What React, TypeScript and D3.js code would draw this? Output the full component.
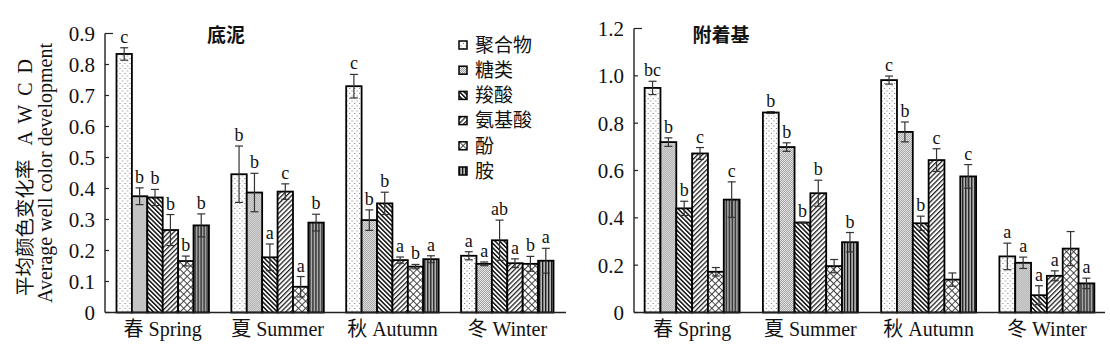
import React from 'react';
import * as d3 from 'd3';

const seasons = ['春 Spring', '夏 Summer', '秋 Autumn', '冬 Winter'];
const series = ['聚合物', '糖类', '羧酸', '氨基酸', '酚', '胺'];

const sedimentMean = [
  [0.834, 0.375, 0.371, 0.266, 0.166, 0.281],
  [0.446, 0.387, 0.178, 0.390, 0.083, 0.290],
  [0.730, 0.298, 0.352, 0.169, 0.148, 0.172],
  [0.183, 0.157, 0.233, 0.159, 0.157, 0.167],
];
const sedimentErr = [
  [0.020, 0.027, 0.026, 0.050, 0.016, 0.037],
  [0.091, 0.062, 0.043, 0.025, 0.033, 0.027],
  [0.038, 0.033, 0.036, 0.010, 0.007, 0.011],
  [0.013, 0.006, 0.065, 0.014, 0.024, 0.040],
];
const sedimentSig = [
  ['c', 'b', 'b', 'b', 'b', 'b'],
  ['b', 'b', 'a', 'c', 'a', 'b'],
  ['c', 'b', 'b', 'a', 'b', 'a'],
  ['a', 'a', 'ab', 'a', 'b', 'a'],
];
const sedimentTicks = [0, 0.1, 0.2, 0.3, 0.4, 0.5, 0.6, 0.7, 0.8, 0.9];

const substrateMean = [
  [0.949, 0.720, 0.440, 0.672, 0.172, 0.477],
  [0.845, 0.699, 0.380, 0.504, 0.196, 0.297],
  [0.982, 0.763, 0.377, 0.644, 0.139, 0.575],
  [0.237, 0.210, 0.073, 0.155, 0.270, 0.123],
];
const substrateErr = [
  [0.028, 0.018, 0.030, 0.025, 0.018, 0.075],
  [0.004, 0.018, 0.002, 0.055, 0.028, 0.041],
  [0.017, 0.042, 0.030, 0.048, 0.028, 0.050],
  [0.056, 0.024, 0.040, 0.021, 0.072, 0.022],
];
const substrateSig = [
  ['bc', 'b', 'b', 'c', '', 'c'],
  ['b', 'b', 'b', 'b', '', 'b'],
  ['c', 'b', 'b', 'c', '', 'c'],
  ['a', 'a', 'a', 'a', '', 'a'],
];
const substrateTicks = [0, 0.2, 0.4, 0.6, 0.8, 1.0, 1.2];

const SERIF = "'Liberation Serif', 'Times New Roman', 'Noto Sans CJK SC', serif";
const CJK = "'Noto Sans CJK SC', sans-serif";

type PanelProps = {
  title: string;
  titleX: number;
  axisX: number;
  axisEnd: number;
  bandRange: [number, number];
  padInner: number;
  padOuter: number;
  yMax: number;
  yTop: number;
  ticks: number[];
  tickFmt: (v: number) => string;
  means: number[][];
  errs: number[][];
  sigs: string[][];
};

const Y0 = 312.5;

function Panel(p: PanelProps) {
  const y = d3.scaleLinear().domain([0, p.yMax]).range([Y0, p.yTop]);
  const x0 = d3
    .scaleBand<string>()
    .domain(seasons)
    .range(p.bandRange)
    .paddingInner(p.padInner)
    .paddingOuter(p.padOuter);
  const x1 = d3.scaleBand<string>().domain(series).range([0, x0.bandwidth()]);
  const bw = x1.bandwidth();
  return (
    <g>
      {seasons.map((s, si) => (
        <g key={s} transform={`translate(${x0(s)},0)`}>
          {series.map((ser, i) => {
            const v = p.means[si][i];
            const e = p.errs[si][i];
            const bx = x1(ser)!;
            const cx = bx + bw / 2;
            return (
              <g key={ser}>
                <rect
                  x={bx}
                  y={y(v)}
                  width={bw}
                  height={Y0 - y(v)}
                  fill={`url(#pat${i})`}
                  stroke="#000"
                  strokeWidth={1.8}
                />
                <line x1={cx} x2={cx} y1={y(v - e)} y2={y(v + e)} stroke="#333" strokeWidth={1.2} />
                <line x1={cx - 4} x2={cx + 4} y1={y(v + e)} y2={y(v + e)} stroke="#333" strokeWidth={1.2} />
                <line x1={cx - 4} x2={cx + 4} y1={y(v - e)} y2={y(v - e)} stroke="#333" strokeWidth={1.2} />
                {p.sigs[si][i] && (
                  <text
                    x={cx}
                    y={y(v + e) - 5}
                    textAnchor="middle"
                    fontFamily={SERIF}
                    fontSize={18}
                    fill="#111"
                  >
                    {p.sigs[si][i]}
                  </text>
                )}
              </g>
            );
          })}
          <text
            x={x0.bandwidth() / 2}
            y={336}
            textAnchor="middle"
            fontFamily={SERIF}
            fontSize={20}
            fill="#111"
          >
            {s}
          </text>
        </g>
      ))}
      <line x1={p.axisX} x2={p.axisX} y1={p.yTop} y2={Y0} stroke="#222" strokeWidth={1.4} />
      <line x1={p.axisX} x2={p.axisEnd} y1={Y0} y2={Y0} stroke="#222" strokeWidth={1.4} />
      {p.ticks.map((t, i) => (
        <g key={t}>
          <line
            x1={p.axisX}
            x2={p.axisX + (i === p.ticks.length - 1 ? 8 : 4)}
            y1={y(t)}
            y2={y(t)}
            stroke="#222"
            strokeWidth={1.2}
          />
          <text
            x={p.axisX - 10}
            y={y(t)}
            dy="0.35em"
            textAnchor="end"
            fontFamily={SERIF}
            fontSize={21}
            fill="#111"
          >
            {p.tickFmt(t)}
          </text>
        </g>
      ))}
      <text x={p.titleX} y={42} textAnchor="middle" fontFamily={CJK} fontWeight="bold" fontSize={19} fill="#111">
        {p.title}
      </text>
    </g>
  );
}

function Patterns() {
  return (
    <defs>
      <pattern id="pat0" patternUnits="userSpaceOnUse" width={5} height={5}>
        <rect width={5} height={5} fill="#fff" />
        <rect x={0.5} y={0.5} width={1} height={1} fill="#777" />
        <rect x={3} y={3} width={1} height={1} fill="#777" />
      </pattern>
      <pattern id="pat1" patternUnits="userSpaceOnUse" width={2} height={2}>
        <rect width={2} height={2} fill="#eeeeee" />
        <rect x={0} y={0} width={1} height={1} fill="#9a9a9a" />
        <rect x={1} y={1} width={1} height={1} fill="#9a9a9a" />
      </pattern>
      <pattern id="pat2" patternUnits="userSpaceOnUse" width={3.2} height={10} patternTransform="rotate(-45)">
        <rect width={3.2} height={10} fill="#fff" />
        <rect x={0} y={0} width={1.5} height={10} fill="#111" />
      </pattern>
      <pattern id="pat3" patternUnits="userSpaceOnUse" width={3.4} height={10} patternTransform="rotate(45)">
        <rect width={3.4} height={10} fill="#fff" />
        <rect x={0} y={0} width={1.3} height={10} fill="#222" />
      </pattern>
      <pattern id="pat4" patternUnits="userSpaceOnUse" width={5} height={5} patternTransform="rotate(45)">
        <rect width={5} height={5} fill="#fff" />
        <rect x={0} y={0} width={0.9} height={5} fill="#333" />
        <rect x={0} y={0} width={5} height={0.9} fill="#333" />
      </pattern>
      <pattern id="pat5" patternUnits="userSpaceOnUse" width={3} height={10}>
        <rect width={3} height={10} fill="#bbb" />
        <rect x={0} y={0} width={1.3} height={10} fill="#111" />
      </pattern>
    </defs>
  );
}

function Legend() {
  return (
    <g>
      {series.map((s, i) => {
        const cy = 45 + i * 25.2;
        return (
          <g key={s}>
            <rect x={459} y={cy - 4} width={8} height={8} fill={`url(#pat${i})`} stroke="#000" strokeWidth={1.5} />
            <text x={475} y={cy} dy="0.36em" fontFamily={CJK} fontSize={19} fill="#111">
              {s}
            </text>
          </g>
        );
      })}
    </g>
  );
}

export default function App() {
  return (
    <svg
      width={1110}
      height={348}
      viewBox="0 0 1110 348"
      style={{ position: 'absolute', left: 0, top: 0, background: '#fff' }}
    >
      <Patterns />
      <rect width={1110} height={348} fill="#fff" />
      <Panel
        title="底泥"
        titleX={226}
        axisX={105}
        axisEnd={566}
        bandRange={[105, 565]}
        padInner={0.195}
        padOuter={0.1}
        yMax={0.9}
        yTop={33.5}
        ticks={sedimentTicks}
        tickFmt={(v) => (v === 0 ? '0' : d3.format('.1f')(v))}
        means={sedimentMean}
        errs={sedimentErr}
        sigs={sedimentSig}
      />
      <Panel
        title="附着基"
        titleX={721}
        axisX={634}
        axisEnd={1105}
        bandRange={[634, 1105]}
        padInner={0.197}
        padOuter={0.09}
        yMax={1.2}
        yTop={28.5}
        ticks={substrateTicks}
        tickFmt={(v) => (v === 0 ? '0' : d3.format('.1f')(v))}
        means={substrateMean}
        errs={substrateErr}
        sigs={substrateSig}
      />
      <Legend />
      <g transform="translate(32,173) rotate(-90)">
        <text x={0} y={0} textAnchor="middle" fontSize={20} fill="#111">
          <tspan fontFamily={CJK} fontSize={19.5}>平均颜色变化率</tspan>
          <tspan fontFamily={SERIF} letterSpacing={9}> AWCD</tspan>
        </text>
      </g>
      <g transform="translate(52,173) rotate(-90)">
        <text x={0} y={0} textAnchor="middle" fontFamily={SERIF} fontSize={20} fill="#111">
          Average well color development
        </text>
      </g>
    </svg>
  );
}
